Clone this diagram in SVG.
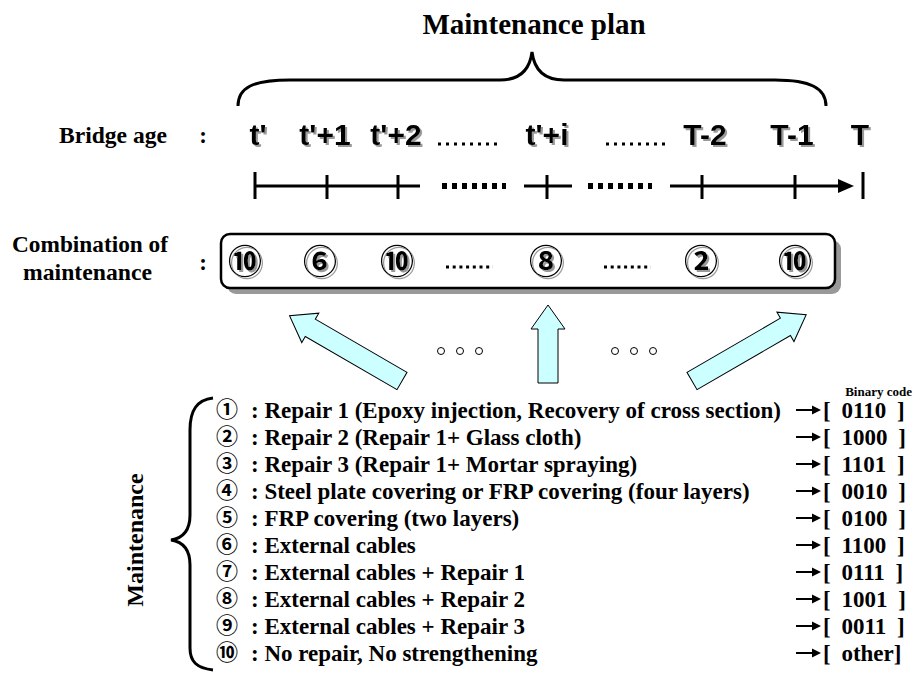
<svg xmlns="http://www.w3.org/2000/svg" width="918" height="680" viewBox="0 0 918 680">
  <defs>
    <style>
      .serif { font-family: "Liberation Serif", "Times New Roman", serif; font-weight: bold; fill: #000; }
      .sans { font-family: "Liberation Sans", Arial, sans-serif; font-weight: bold; fill: #000; }
      .circ { font-family: "Noto Sans CJK JP", "DejaVu Sans", sans-serif; font-weight: bold; fill: #000; }
      .age { font-size: 30px; text-anchor: middle; }
      .line { stroke: #000; stroke-width: 3; fill: none; }
      .blk { fill: #000; }
      .item { font-size: 23px; }
      .num { font-size: 22px; }
      .code { font-size: 23px; word-spacing: 5px; }
      .arrow { fill: #ccffff; stroke: #000; stroke-width: 1; }
      .ring { fill: none; stroke: #000; stroke-width: 1; }
      .dots { stroke: #000; fill: none; }
    </style>
    <!-- grey offset shadow used by the timeline labels and the plan symbols -->
    <filter id="dropShadow" x="-20%" y="-20%" width="150%" height="150%">
      <feOffset in="SourceAlpha" dx="2" dy="2" result="off"/>
      <feFlood flood-color="#9a9a9a"/>
      <feComposite in2="off" operator="in" result="shade"/>
      <feMerge>
        <feMergeNode in="shade"/>
        <feMergeNode in="SourceGraphic"/>
      </feMerge>
    </filter>
    <!-- small right arrow placed before each binary code -->
    <g id="codeArrow">
      <path d="M0,0 H18" stroke="#000" stroke-width="2"/>
      <polygon points="16,-4.5 25,0 16,4.5" fill="#000"/>
    </g>
  </defs>

  <!-- Heading and brace over the planning horizon -->
  <g id="plan-title">
    <text class="serif" x="534" y="34" font-size="29" text-anchor="middle">Maintenance plan</text>
    <path class="line" d="M238,106 C238,88 252,80 290,80 L500,80 C522,80 530,68 532,52 C534,68 542,80 564,80 L775,80 C810,80 826,88 826,106"/>
  </g>

  <!-- Bridge age row -->
  <g id="bridge-age">
    <text class="serif" x="59" y="143" font-size="23" textLength="108" lengthAdjust="spacingAndGlyphs">Bridge age</text>
    <text class="serif" x="203" y="143" font-size="23" text-anchor="middle">:</text>
    <g class="sans age" filter="url(#dropShadow)">
      <text x="258" y="145">t'</text>
      <text x="325" y="145">t'+1</text>
      <text x="396" y="145">t'+2</text>
      <text x="547" y="145">t'+i</text>
      <text x="705" y="145">T-2</text>
      <text x="792" y="145">T-1</text>
      <text x="860" y="145">T</text>
    </g>
    <path class="dots" d="M438,144 H500 M606,144 H668" stroke-width="3" stroke-dasharray="3,5"/>
  </g>

  <!-- Time axis -->
  <g id="time-axis">
    <path class="line" d="M255,186 H420 M524,186 H572 M670,186 H842"/>
    <path class="line" d="M255,172 V199 M327,175 V199 M398,175 V199 M547,175 V199 M702,175 V199 M795,175 V199 M863,172 V199"/>
    <polygon class="blk" points="838,179 854,186 838,193"/>
    <path class="dots" d="M442,186 H506 M588,186 H652" stroke-width="6" stroke-dasharray="5,5"/>
  </g>

  <!-- Combination of maintenance row -->
  <g id="combination">
    <text class="serif" x="12" y="252" font-size="23" textLength="156" lengthAdjust="spacingAndGlyphs">Combination of</text>
    <text class="serif" x="23" y="280" font-size="23" textLength="129" lengthAdjust="spacingAndGlyphs">maintenance</text>
    <text class="serif" x="203" y="270" font-size="23" text-anchor="middle">:</text>
    <rect x="227" y="240" width="614" height="54" rx="9" fill="#999"/>
    <rect x="221" y="234" width="614" height="54" rx="9" fill="#fff" stroke="#000" stroke-width="2.5"/>
    <g class="circ" font-size="34" text-anchor="middle" filter="url(#dropShadow)">
      <text x="245" y="274">⑩</text>
      <text x="320" y="274">⑥</text>
      <text x="397" y="274">⑩</text>
      <text x="546" y="274">⑧</text>
      <text x="701" y="274">②</text>
      <text x="795" y="274">⑩</text>
    </g>
    <path class="dots" d="M446,267 H493 M604,267 H651" stroke-width="3" stroke-dasharray="3,3.7"/>
  </g>

  <!-- Selection arrows from the catalogue to the plan -->
  <g id="connectors">
    <polygon class="arrow" transform="translate(402,381) rotate(210.1)" points="0,-10 106,-10 106,-17 130,0 106,17 106,10 0,10"/>
    <polygon class="arrow" transform="translate(548,383) rotate(-90)" points="0,-10 54,-10 54,-17 78,0 54,17 54,10 0,10"/>
    <polygon class="arrow" transform="translate(692,381) rotate(-30.1)" points="0,-10 108,-10 108,-17 132,0 108,17 108,10 0,10"/>
    <circle class="ring" cx="441" cy="351" r="3.5"/>
    <circle class="ring" cx="460" cy="351" r="3.5"/>
    <circle class="ring" cx="479" cy="351" r="3.5"/>
    <circle class="ring" cx="615" cy="351" r="3.5"/>
    <circle class="ring" cx="634" cy="351" r="3.5"/>
    <circle class="ring" cx="653" cy="351" r="3.5"/>
  </g>

  <!-- Maintenance catalogue with binary codes -->
  <g id="maintenance-list">
    <text class="serif" x="0" y="0" font-size="24" text-anchor="middle" transform="translate(143,540) rotate(-90)">Maintenance</text>
    <path class="line" d="M213,398 C197,400 190,410 190,430 L190,515 C190,530 184,538 171,540 C184,542 190,550 190,565 L190,648 C190,662 197,668 213,670"/>
    <text class="serif" x="912" y="396" font-size="13" text-anchor="end">Binary code</text>
    <g class="serif item">
      <text x="216" y="418"><tspan class="circ num" dy="-1">①</tspan><tspan x="251" dy="1">: Repair 1 (Epoxy injection, Recovery of cross section)</tspan></text>
      <text x="216" y="445"><tspan class="circ num" dy="-1">②</tspan><tspan x="251" dy="1">: Repair 2 (Repair 1+ Glass cloth)</tspan></text>
      <text x="216" y="472"><tspan class="circ num" dy="-1">③</tspan><tspan x="251" dy="1">: Repair 3 (Repair 1+ Mortar spraying)</tspan></text>
      <text x="216" y="499"><tspan class="circ num" dy="-1">④</tspan><tspan x="251" dy="1">: Steel plate covering or FRP covering (four layers)</tspan></text>
      <text x="216" y="526"><tspan class="circ num" dy="-1">⑤</tspan><tspan x="251" dy="1">: FRP covering (two layers)</tspan></text>
      <text x="216" y="553"><tspan class="circ num" dy="-1">⑥</tspan><tspan x="251" dy="1">: External cables</tspan></text>
      <text x="216" y="580"><tspan class="circ num" dy="-1">⑦</tspan><tspan x="251" dy="1">: External cables + Repair 1</tspan></text>
      <text x="216" y="607"><tspan class="circ num" dy="-1">⑧</tspan><tspan x="251" dy="1">: External cables + Repair 2</tspan></text>
      <text x="216" y="634"><tspan class="circ num" dy="-1">⑨</tspan><tspan x="251" dy="1">: External cables + Repair 3</tspan></text>
      <text x="216" y="661"><tspan class="circ num" dy="-1">⑩</tspan><tspan x="251" dy="1">: No repair, No strengthening</tspan></text>
    </g>
    <g id="code-arrows">
      <use href="#codeArrow" x="796" y="410"/>
      <use href="#codeArrow" x="796" y="437"/>
      <use href="#codeArrow" x="796" y="464"/>
      <use href="#codeArrow" x="796" y="491"/>
      <use href="#codeArrow" x="796" y="518"/>
      <use href="#codeArrow" x="796" y="545"/>
      <use href="#codeArrow" x="796" y="572"/>
      <use href="#codeArrow" x="796" y="599"/>
      <use href="#codeArrow" x="796" y="626"/>
      <use href="#codeArrow" x="796" y="653"/>
    </g>
    <g class="serif code">
      <text x="823" y="418">[ 0110 ]</text>
      <text x="823" y="445">[ 1000 ]</text>
      <text x="823" y="472">[ 1101 ]</text>
      <text x="823" y="499">[ 0010 ]</text>
      <text x="823" y="526">[ 0100 ]</text>
      <text x="823" y="553">[ 1100 ]</text>
      <text x="823" y="580">[ 0111 ]</text>
      <text x="823" y="607">[ 1001 ]</text>
      <text x="823" y="634">[ 0011 ]</text>
      <text x="823" y="661">[ other]</text>
    </g>
  </g>
</svg>
